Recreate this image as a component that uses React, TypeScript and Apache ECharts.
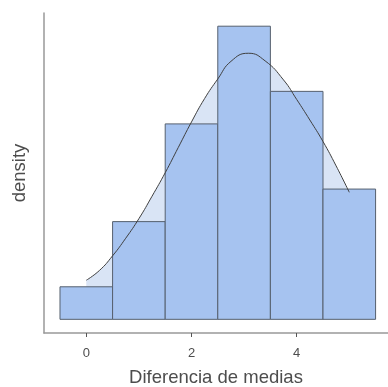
import React, { useEffect, useRef } from "react";
import * as echarts from "echarts";

// Histogram bins (centre of each bin, width 1) and their densities
const binCenters = [0, 1, 2, 3, 4, 5];
const binDensity = [0.0333, 0.1, 0.2, 0.3, 0.2333, 0.1333];

// Density curve
const curveX = [0, 0.25, 0.5, 0.75, 1, 1.25, 1.5, 1.75, 2, 2.25, 2.5, 2.75, 3.08, 3.4, 3.75, 4, 4.25, 4.5, 4.75, 5];
const curveY = [0.04, 0.05, 0.065, 0.083, 0.103, 0.126, 0.15, 0.176, 0.202, 0.226, 0.246, 0.264, 0.2723, 0.2645, 0.245, 0.225, 0.204, 0.182, 0.157, 0.13];

const xTicks = [0, 2, 4];

const FONT = "Liberation Sans, Arial, sans-serif";

export default function App() {
  const ref = useRef<HTMLDivElement>(null);
  useEffect(() => {
    if (!ref.current) return;
    const chart = echarts.init(ref.current, null, { renderer: "svg" });
    const curveData = curveX.map((x, i) => [x, curveY[i]]);
    const barData = binCenters.map((x, i) => [x, binDensity[i]]);
    chart.setOption({
      animation: false,
      grid: { left: 44, right: 0, top: 13, bottom: 54, outerBoundsMode: "none", containLabel: false },
      xAxis: {
        type: "value",
        min: -0.804,
        max: 5.736,
        name: "Diferencia de medias",
        nameLocation: "middle",
        nameGap: 34,
        nameTextStyle: { fontSize: 18.5, color: "#4d4d4d", fontFamily: FONT },
        axisLine: { onZero: false, lineStyle: { color: "#999999", width: 1.5 } },
        axisTick: { show: true, customValues: xTicks, length: 4, lineStyle: { color: "#555555" } },
        axisLabel: {
          customValues: xTicks,
          color: "#4d4d4d",
          fontSize: 13,
          margin: 13,
          fontFamily: FONT,
        },
        splitLine: { show: false },
      },
      yAxis: {
        type: "value",
        min: -0.014,
        max: 0.3135,
        name: "density",
        nameLocation: "middle",
        nameGap: 16,
        nameRotate: 90,
        nameTextStyle: { fontSize: 18.5, color: "#4d4d4d", fontFamily: FONT },
        axisLine: { show: true, onZero: false, lineStyle: { color: "#999999", width: 1.5 } },
        axisTick: { show: false },
        axisLabel: { show: false },
        splitLine: { show: false },
      },
      series: [
        {
          type: "line",
          data: curveData,
          smooth: true,
          symbol: "none",
          z: 1,
          lineStyle: { width: 0, opacity: 0 },
          areaStyle: { color: "#d9e4f5", opacity: 1, origin: "auto" },
          silent: true,
        },
        {
          type: "custom",
          z: 2,
          data: barData,
          encode: { x: 0, y: 1 },
          renderItem: (params: any, api: any) => {
            const x = api.value(0);
            const y = api.value(1);
            const p0 = api.coord([x - 0.5, y]);
            const p1 = api.coord([x + 0.5, 0]);
            return {
              type: "rect",
              shape: { x: p0[0], y: p0[1], width: p1[0] - p0[0], height: p1[1] - p0[1] },
              style: { fill: "#a6c3f0", stroke: "#56606e", lineWidth: 1 },
            };
          },
        },
        {
          type: "line",
          data: curveData,
          smooth: true,
          symbol: "none",
          z: 3,
          lineStyle: { color: "#3f3f3f", width: 1 },
          silent: true,
        },
      ],
    });
    return () => chart.dispose();
  }, []);
  return (
    <div
      ref={ref}
      style={{ position: "fixed", left: 0, top: 0, width: 388, height: 387 }}
    />
  );
}
